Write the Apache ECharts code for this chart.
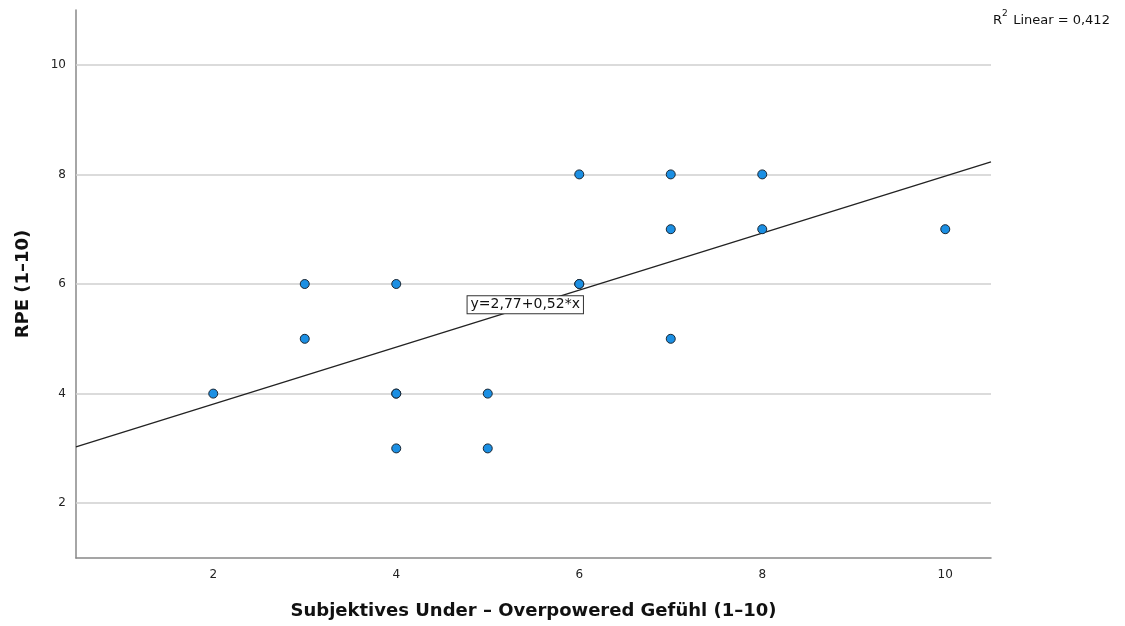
<!DOCTYPE html>
<html>
<head>
<meta charset="utf-8">
<script src="https://cdn.jsdelivr.net/npm/echarts@6/dist/echarts.min.js"></script>
<style>html,body{margin:0;padding:0;background:#fff;}#c{width:1125px;height:626px;}</style>
</head>
<body>
<div id="c"></div>
<script>
// Data
const xValues = [2, 3, 3, 4, 4, 4, 4, 5, 5, 6, 6, 6, 7, 7, 7, 8, 8, 10];
const yValues = [4, 6, 5, 6, 4, 4, 3, 4, 3, 8, 6, 6, 8, 7, 5, 8, 7, 7];
const fitLineX = [0.5, 10.5];
const fitLineY = [3.03, 8.23];
const gridValues = [2, 4, 6, 8, 10];
const xTickLabels = [2, 4, 6, 8, 10];
const yTickLabels = [2, 4, 6, 8, 10];
const fitLabel = 'y=2,77+0,52*x';
const fitLabelPos = [5.41, 5.62];
const xTitle = 'Subjektives Under – Overpowered Gefühl (1–10)';
const yTitle = 'RPE (1–10)';

const points = xValues.map((x, i) => [x, yValues[i]]);
const fitData = fitLineX.map((x, i) => [x, fitLineY[i]]);

const chart = echarts.init(document.getElementById('c'));
const font = 'DejaVu Sans';
chart.setOption({
  animation: false,
  backgroundColor: '#ffffff',
  grid: { left: 76, right: 134, top: 10, bottom: 68, containLabel: false },
  xAxis: {
    type: 'value', min: 0.5, max: 10.5, interval: 0.5,
    name: xTitle, nameLocation: 'middle', nameGap: 44,
    nameTextStyle: { fontFamily: font, fontWeight: 'bold', fontSize: 18, color: '#111' },
    axisLine: { show: true, lineStyle: { color: '#888', width: 1.5 } },
    axisTick: { show: false },
    splitLine: { show: false },
    axisLabel: {
      margin: 11, fontFamily: font, fontSize: 12, color: '#222',
      formatter: v => xTickLabels.includes(v) ? String(v) : ''
    }
  },
  yAxis: {
    type: 'value', min: 1, max: 11, interval: 1,
    name: yTitle, nameLocation: 'middle', nameGap: 44, nameRotate: 90,
    nameTextStyle: { fontFamily: font, fontWeight: 'bold', fontSize: 18, color: '#111' },
    axisLine: { show: true, lineStyle: { color: '#888', width: 1.5 } },
    axisTick: { show: false },
    splitLine: { show: false },
    axisLabel: {
      margin: 10, fontFamily: font, fontSize: 12, color: '#222',
      formatter: v => yTickLabels.includes(v) ? String(v) : ''
    }
  },
  series: [
    {
      type: 'line', data: [], silent: true, z: 1,
      markLine: {
        silent: true, symbol: 'none', label: { show: false }, z: 1,
        lineStyle: { color: '#cfcfcf', width: 1.5, type: 'solid' },
        data: gridValues.map(v => ({ yAxis: v }))
      }
    },
    {
      type: 'line', data: fitData, showSymbol: false, symbol: 'none', silent: true, z: 3,
      lineStyle: { color: '#222', width: 1.3 },
      markPoint: {
        symbol: 'rect', symbolSize: 0, z: 10,
        data: [{ coord: fitLabelPos }],
        label: {
          show: true, position: 'inside', formatter: fitLabel,
          fontFamily: font, fontSize: 14, color: '#111',
          backgroundColor: '#fff', borderColor: '#333', borderWidth: 1,
          padding: [2, 3, 1, 3]
        }
      }
    },
    {
      type: 'scatter', data: points, symbolSize: 9, z: 5,
      itemStyle: { color: '#1b8fe3', borderColor: '#1b2733', borderWidth: 1, opacity: 1 }
    }
  ],
  graphic: [
    { type: 'text', left: 993, top: 14, style: { text: 'R', fontFamily: font, fontSize: 13, fill: '#111' } },
    { type: 'text', left: 1002, top: 9, style: { text: '2', fontFamily: font, fontSize: 9, fill: '#111' } },
    { type: 'text', left: 1009, top: 14, style: { text: ' Linear = 0,412', fontFamily: font, fontSize: 13, fill: '#111' } }
  ]
});
</script>
</body>
</html>
